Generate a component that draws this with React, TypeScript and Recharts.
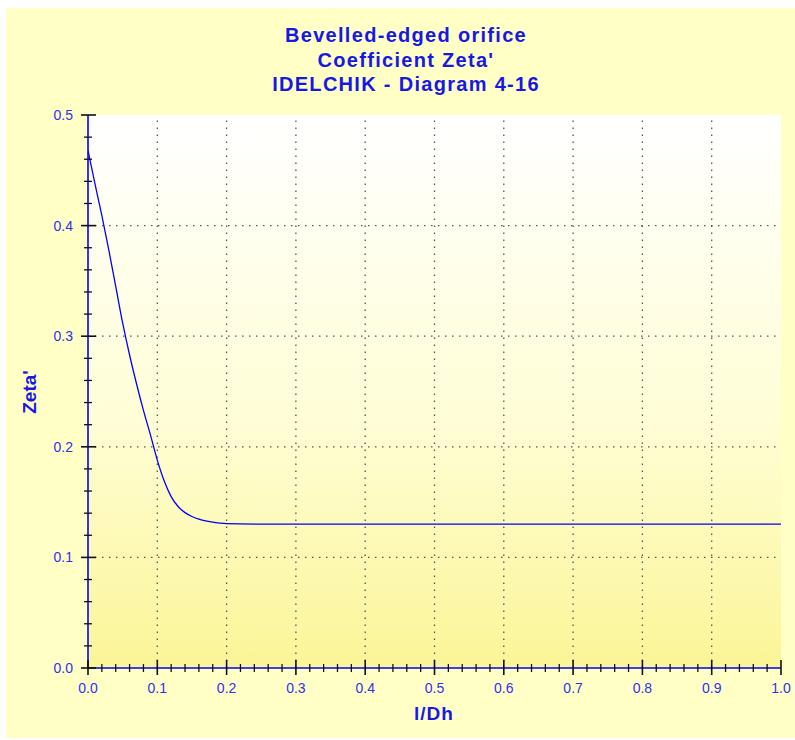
import React from 'react'
import { LineChart, Line, XAxis, YAxis, CartesianGrid, ReferenceLine } from 'recharts'

// l/Dh values and the read-off Zeta' values
const lDh = [0, 0.01, 0.02, 0.03, 0.04, 0.05, 0.06, 0.07, 0.08, 0.09, 0.1, 0.11, 0.12, 0.13, 0.14, 0.15, 0.16, 0.17, 0.18, 0.19, 0.2, 0.25, 0.3, 0.4, 0.5, 0.6, 0.7, 0.8, 0.9, 1.0]
const zeta = [0.468, 0.438, 0.409, 0.378, 0.345, 0.312, 0.283, 0.257, 0.233, 0.211, 0.188, 0.169, 0.155, 0.146, 0.1405, 0.137, 0.1345, 0.133, 0.1318, 0.131, 0.1305, 0.1301, 0.13, 0.13, 0.13, 0.13, 0.13, 0.13, 0.13, 0.13]

// axis ticks (major every 0.1, minor every 0.02)
const xTicks = [0, 0.02, 0.04, 0.06, 0.08, 0.1, 0.12, 0.14, 0.16, 0.18, 0.2, 0.22, 0.24, 0.26, 0.28, 0.3, 0.32, 0.34, 0.36, 0.38, 0.4, 0.42, 0.44, 0.46, 0.48, 0.5, 0.52, 0.54, 0.56, 0.58, 0.6, 0.62, 0.64, 0.66, 0.68, 0.7, 0.72, 0.74, 0.76, 0.78, 0.8, 0.82, 0.84, 0.86, 0.88, 0.9, 0.92, 0.94, 0.96, 0.98, 1.0]
const yTicks = [0, 0.02, 0.04, 0.06, 0.08, 0.1, 0.12, 0.14, 0.16, 0.18, 0.2, 0.22, 0.24, 0.26, 0.28, 0.3, 0.32, 0.34, 0.36, 0.38, 0.4, 0.42, 0.44, 0.46, 0.48, 0.5]
const xGrid = [0.1, 0.2, 0.3, 0.4, 0.5, 0.6, 0.7, 0.8, 0.9]
const yGrid = [0.1, 0.2, 0.3, 0.4]

const titleLines = ['Bevelled-edged orifice', "Coefficient Zeta'", 'IDELCHIK - Diagram 4-16']

const data = lDh.map((x, i) => ({ x, z: zeta[i] }))

const FONT = '"Liberation Sans", Arial, sans-serif'
const BLUE = '#0000ff'
const TEXT_BLUE = '#1818e6'

const AxisTick = (props: any) => {
  const { x, y, payload, side } = props
  const v = payload.value
  const major = Math.round(v * 100) % 10 === 0
  const out = major ? 7 : 4
  const inn = major ? 8 : 4
  let line
  let label = null
  if (side === 'bottom') {
    line = <line x1={x} x2={x} y1={y - inn} y2={y + out} />
    if (major) label = <text x={x} y={y + 25} textAnchor="middle">{v.toFixed(1)}</text>
  } else if (side === 'top') {
    line = <line x1={x} x2={x} y1={y - out} y2={y + inn} />
  } else if (side === 'left') {
    line = <line x1={x - out} x2={x + inn} y1={y} y2={y} />
    if (major) label = <text x={x - 15} y={y + 5} textAnchor="end">{v.toFixed(1)}</text>
  } else {
    line = <line x1={x - inn} x2={x + out} y1={y} y2={y} />
  }
  return (
    <g>
      <g stroke="#111" strokeWidth={major ? 1.6 : 1.3}>{line}</g>
      {label && <g fill="#3030f5" fontSize={14} fontFamily={FONT}>{label}</g>}
    </g>
  )
}

const App: React.FC = () => {
  return (
    <div style={{ position: 'absolute', left: 6, top: 8, width: 789, height: 730, background: '#ffffc6', fontFamily: FONT }}>
      <div style={{ position: 'absolute', left: 0, top: 15, width: 800, textAlign: 'center', color: TEXT_BLUE, fontWeight: 'bold', fontSize: 20, letterSpacing: 1.3, lineHeight: '24.5px' }}>
        {titleLines.map((t) => <div key={t}>{t}</div>)}
      </div>
      <div style={{ position: 'absolute', left: 24, top: 384, transform: 'translate(-50%, -50%) rotate(-90deg)', color: TEXT_BLUE, fontWeight: 'bold', fontSize: 19, whiteSpace: 'nowrap' }}>
        Zeta'
      </div>
      <div style={{ position: 'absolute', left: 428, top: 706, transform: 'translate(-50%, -50%)', color: TEXT_BLUE, fontWeight: 'bold', fontSize: 19, letterSpacing: 1, whiteSpace: 'nowrap' }}>
        l/Dh
      </div>
      <LineChart
        width={789}
        height={730}
        data={data}
        margin={{ top: 107, right: 14, left: 22, bottom: 40 }}
        style={{ position: 'absolute', left: 0, top: 0 }}
      >
        <defs>
          <linearGradient id="plotBg" x1="0" y1="0" x2="0" y2="1">
            <stop offset="0%" stopColor="#ffffff" />
            <stop offset="55%" stopColor="#fffed6" />
            <stop offset="100%" stopColor="#fbf597" />
          </linearGradient>
        </defs>
        <CartesianGrid horizontal={false} vertical={false} fill="url(#plotBg)" fillOpacity={1} stroke="none" />
        {xGrid.map((v) => (
          <ReferenceLine key={'x' + v} x={v} stroke="#555" strokeWidth={1.3} strokeDasharray="1.5 5.5" />
        ))}
        {yGrid.map((v) => (
          <ReferenceLine key={'y' + v} y={v} stroke="#555" strokeWidth={1.3} strokeDasharray="1.5 5.5" />
        ))}
        <XAxis
          dataKey="x"
          type="number"
          domain={[0, 1]}
          ticks={xTicks}
          interval={0}
          allowDataOverflow
          height={30}
          tickSize={0}
          tickMargin={0}
          tickLine={false}
          axisLine={{ stroke: BLUE, strokeWidth: 1.6 }}
          tick={(p: any) => <AxisTick {...p} side="bottom" />}
        />
        <XAxis
          xAxisId="top"
          orientation="top"
          dataKey="x"
          type="number"
          domain={[0, 1]}
          ticks={xTicks}
          interval={0}
          allowDataOverflow
          height={0}
          tickSize={0}
          tickMargin={0}
          tickLine={false}
          axisLine={{ stroke: BLUE, strokeWidth: 1.6 }}
          tick={(p: any) => <AxisTick {...p} side="top" />}
        />
        <YAxis
          type="number"
          domain={[0, 0.5]}
          ticks={yTicks}
          interval={0}
          allowDataOverflow
          width={60}
          tickSize={0}
          tickMargin={0}
          tickLine={false}
          axisLine={{ stroke: BLUE, strokeWidth: 1.6 }}
          tick={(p: any) => <AxisTick {...p} side="left" />}
        />
        <YAxis
          yAxisId="right"
          orientation="right"
          type="number"
          domain={[0, 0.5]}
          ticks={yTicks}
          interval={0}
          allowDataOverflow
          width={0}
          tickSize={0}
          tickMargin={0}
          tickLine={false}
          axisLine={{ stroke: BLUE, strokeWidth: 1.6 }}
          tick={(p: any) => <AxisTick {...p} side="right" />}
        />
        <Line
          xAxisId="top"
          yAxisId="right"
          dataKey="z"
          stroke="none"
          dot={false}
          activeDot={false}
          isAnimationActive={false}
        />
        <Line
          type="monotone"
          dataKey="z"
          stroke={BLUE}
          strokeWidth={1.3}
          dot={false}
          activeDot={false}
          isAnimationActive={false}
        />
      </LineChart>
    </div>
  )
}

export default App
